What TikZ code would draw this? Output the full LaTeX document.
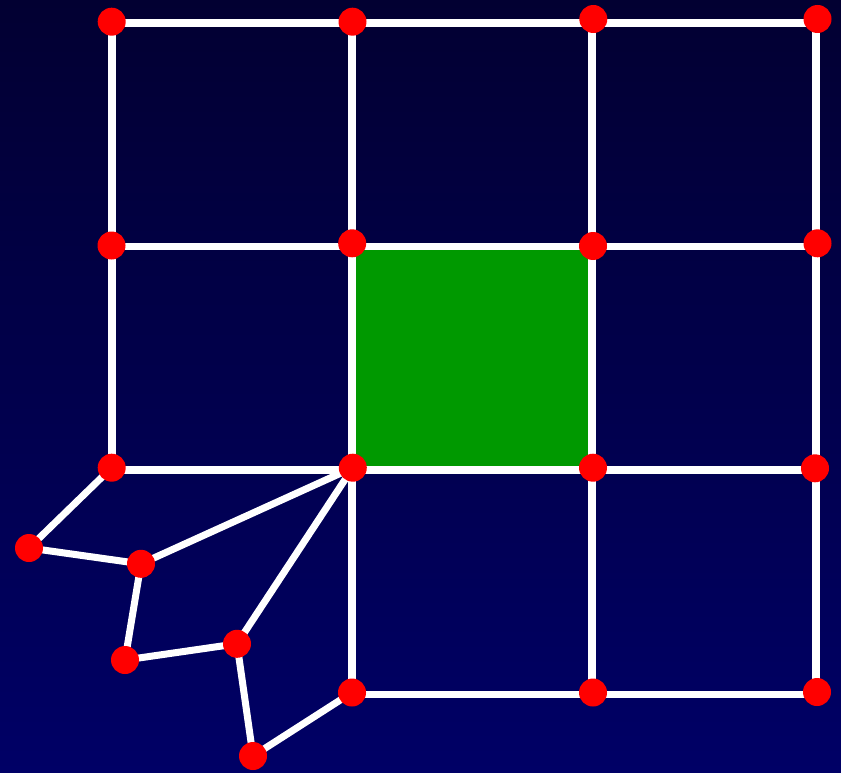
\documentclass[tikz,border=0pt]{standalone}
\begin{document}
\begin{tikzpicture}[x=1pt,y=-1pt,
  vert/.style={circle,fill=red,inner sep=0pt,minimum size=28pt},
  edge/.style={white,line width=7.5pt}]
\definecolor{bgtop}{RGB}{2,0,50}
\definecolor{bgbot}{RGB}{0,0,102}
\definecolor{cellgreen}{RGB}{0,153,0}
\shade[top color=bgtop,bottom color=bgbot] (0,0) rectangle (841,773);
\useasboundingbox (0,0) rectangle (841,773);
% grid line crossings
\coordinate (ga1) at (112,23);
\coordinate (ga2) at (352,23);
\coordinate (ga3) at (592,23);
\coordinate (ga4) at (816,23);
\coordinate (gb1) at (112,246.5);
\coordinate (gb2) at (352,246.5);
\coordinate (gb3) at (592,246.5);
\coordinate (gb4) at (816,246.5);
\coordinate (gc1) at (112,470);
\coordinate (gc2) at (352,470);
\coordinate (gc3) at (592,470);
\coordinate (gc4) at (816,470);
\coordinate (gd2) at (352,694.5);
\coordinate (gd3) at (592,694.5);
\coordinate (gd4) at (816,694.5);
% dot positions
\coordinate (a1) at (111.7,21.7);
\coordinate (a2) at (352.5,21.7);
\coordinate (a3) at (593.3,19);
\coordinate (a4) at (817.5,19);
\coordinate (b1) at (111.5,245.5);
\coordinate (b2) at (352.2,243.3);
\coordinate (b3) at (593,246);
\coordinate (b4) at (817.5,243.3);
\coordinate (c1) at (111.7,467.7);
\coordinate (c2) at (352.8,467.7);
\coordinate (c3) at (593,467.7);
\coordinate (c4) at (815,468.3);
\coordinate (d2) at (352,692.5);
\coordinate (d3) at (593,692.5);
\coordinate (d4) at (817,692);
\coordinate (e1) at (29,548);
\coordinate (e2) at (141,563.8);
\coordinate (e3) at (125,660);
\coordinate (e4) at (237,643.8);
\coordinate (e5) at (253,756);
% green cell
\fill[cellgreen] (gb2) rectangle (gc3);
% grid edges
\draw[edge] (ga1)--(ga2)--(ga3)--(ga4);
\draw[edge] (gb1)--(gb2)--(gb3)--(gb4);
\draw[edge] (gc1)--(gc2)--(gc3)--(gc4);
\draw[edge] (gd2)--(gd3)--(gd4);
\draw[edge] (ga1)--(gb1)--(gc1);
\draw[edge] (ga2)--(gb2)--(gc2)--(gd2);
\draw[edge] (ga3)--(gb3)--(gc3)--(gd3);
\draw[edge] (ga4)--(gb4)--(gc4)--(gd4);
% extra edges
\draw[edge,line width=7pt] (c1)--(e1)--(e2)--(c2);
\draw[edge,line width=7pt] (e2)--(e3)--(e4)--(c2);
\draw[edge,line width=7pt] (e4)--(e5)--(d2);
% vertex dots
\foreach \p in {a1,a2,a3,a4,b1,b2,b3,b4,c1,c2,c3,c4,d2,d3,d4,e1,e2,e3,e4,e5}
  \node[vert] (n\p) at (\p) {};
\end{tikzpicture}
\end{document}
